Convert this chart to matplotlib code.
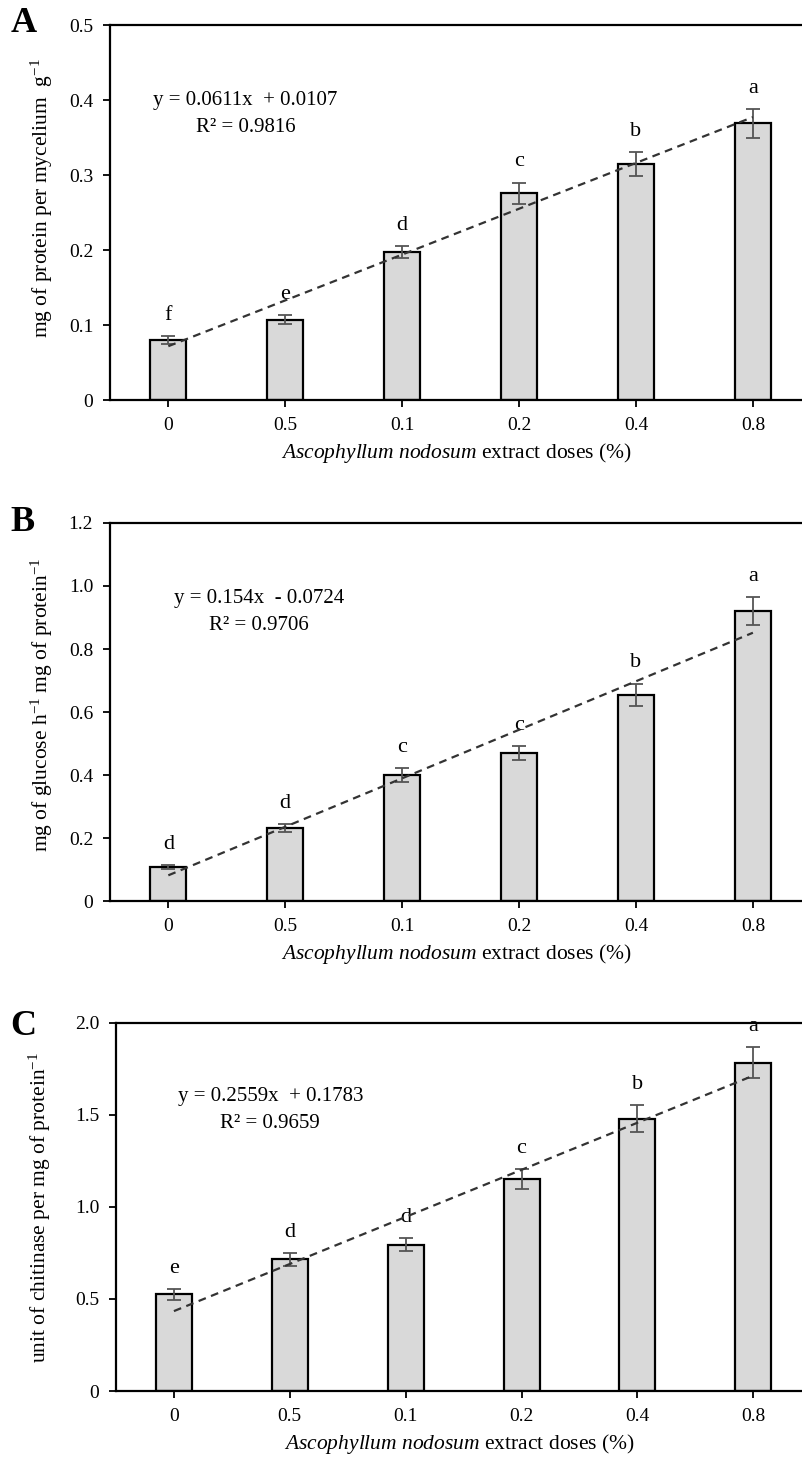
import numpy as np
import matplotlib
matplotlib.use("Agg")
import matplotlib.pyplot as plt

plt.rcParams["font.family"] = ["Liberation Serif", "DejaVu Serif"]
plt.rcParams["mathtext.fontset"] = "custom"
plt.rcParams["mathtext.rm"] = "Liberation Serif"
plt.rcParams["mathtext.it"] = "Liberation Serif:italic"

# ==========================================
# DATOS
# ==========================================
DOSES = ["0", "0.5", "0.1", "0.2", "0.4", "0.8"]

protein = [0.080, 0.107, 0.197, 0.276, 0.315, 0.369]
protein_err = [0.005, 0.006, 0.008, 0.014, 0.016, 0.019]
protein_letters = ["f", "e", "d", "c", "b", "a"]

glucose = [0.107, 0.232, 0.400, 0.470, 0.655, 0.920]
glucose_err = [0.006, 0.012, 0.022, 0.022, 0.035, 0.045]
glucose_letters = ["d", "d", "c", "c", "b", "a"]

chitinase = [0.525, 0.715, 0.795, 1.150, 1.480, 1.785]
chitinase_err = [0.030, 0.035, 0.035, 0.055, 0.075, 0.085]
chitinase_letters = ["e", "d", "d", "c", "b", "a"]

# pendiente, intercepto, textos de la ecuacion
fits = [(0.0611, 0.0107, "y = 0.0611x  + 0.0107", "R² = 0.9816"),
        (0.154, -0.0724, "y = 0.154x  - 0.0724", "R² = 0.9706"),
        (0.2559, 0.1783, "y = 0.2559x  + 0.1783", "R² = 0.9659")]

panels = [
    dict(tag="A", vals=protein, err=protein_err, letters=protein_letters,
         ylim=0.5, yticks=[0, 0.1, 0.2, 0.3, 0.4, 0.5],
         yticklabels=["0", "0.1", "0.2", "0.3", "0.4", "0.5"],
         ylabel=r"mg of protein per mycelium  g$^{\mathregular{-1}}$",
         pos=[0.137, 0.7273, 0.863, 0.2556], eq_xy=(0.196, 0.80),
         lab_xy=(-0.079, 0.54), tag_y=0.984),
    dict(tag="B", vals=glucose, err=glucose_err, letters=glucose_letters,
         ylim=1.2, yticks=[0, 0.2, 0.4, 0.6, 0.8, 1.0, 1.2],
         yticklabels=["0", "0.2", "0.4", "0.6", "0.8", "1.0", "1.2"],
         ylabel=r"mg of glucose h$^{\mathregular{-1}}$ mg of protein$^{\mathregular{-1}}$",
         pos=[0.137, 0.3858, 0.863, 0.2577], eq_xy=(0.216, 0.80),
         lab_xy=(-0.079, 0.52), tag_y=0.644),
    dict(tag="C", vals=chitinase, err=chitinase_err, letters=chitinase_letters,
         ylim=2.0, yticks=[0, 0.5, 1.0, 1.5, 2.0],
         yticklabels=["0", "0.5", "1.0", "1.5", "2.0"],
         ylabel=r"unit of chitinase per mg of protein$^{\mathregular{-1}}$",
         pos=[0.1446, 0.0518, 0.8554, 0.2509], eq_xy=(0.225, 0.80),
         lab_xy=(-0.092, 0.5), tag_y=0.3)
]

fig = plt.figure(figsize=(8.02, 14.67), dpi=100)
x = np.arange(len(DOSES))

for p, (m, b, eq, r2) in zip(panels, fits):
    ax = fig.add_axes(p["pos"])
    ax.bar(x, p["vals"], width=0.31, color="#d9d9d9", edgecolor="black",
           linewidth=1.6, zorder=2)
    ax.errorbar(x, p["vals"], yerr=p["err"], fmt="none", ecolor="#555555",
                elinewidth=1.3, capsize=5, capthick=1.3, zorder=3)

    # linea de tendencia (x = 1..6)
    xs = np.array([0, len(DOSES) - 1])
    ax.plot(xs, m * (xs + 1) + b, linestyle=(0, (3.5, 2.5)), color="#333333",
            linewidth=1.6, zorder=4)

    for xi, v, e, l in zip(x, p["vals"], p["err"], p["letters"]):
        ax.text(xi, v + e + p["ylim"] * 0.03, l, ha="center", va="bottom",
                fontsize=16)

    ax.text(p["eq_xy"][0], p["eq_xy"][1], eq, transform=ax.transAxes,
            ha="center", va="center", fontsize=15)
    ax.text(p["eq_xy"][0], p["eq_xy"][1] - 0.072, r2, transform=ax.transAxes,
            ha="center", va="center", fontsize=15)

    ax.set_xlim(-0.5, 5.42)
    ax.set_ylim(0, p["ylim"])
    ax.set_yticks(p["yticks"])
    ax.set_yticklabels(p["yticklabels"])
    ax.set_xticks(x)
    ax.set_xticklabels(DOSES)
    ax.tick_params(direction="out", length=5, width=1.3, labelsize=14,
                   pad=7)
    ax.spines["right"].set_visible(False)
    for s in ["left", "bottom", "top"]:
        ax.spines[s].set_linewidth(1.6)

    ax.set_ylabel(p["ylabel"], fontsize=15.5)
    ax.yaxis.set_label_coords(*p["lab_xy"])
    ax.set_xlabel(r"$\mathit{Ascophyllum\ nodosum}$ extract doses (%)",
                  fontsize=15.5, labelpad=5)

    fig.text(0.013, p["tag_y"], p["tag"], fontsize=26,
             fontweight="bold", ha="left", va="center")

fig.savefig("out.png", dpi=100)
